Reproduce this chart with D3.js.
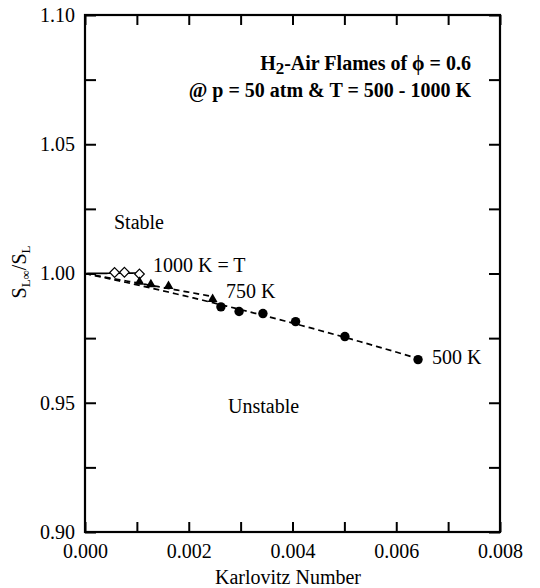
<!DOCTYPE html>
<html><head><meta charset="utf-8">
<script src="https://cdn.jsdelivr.net/npm/d3@7"></script>
<style>body{margin:0;background:#fff}svg{display:block}</style>
</head><body><svg id="c" width="540" height="588"></svg>
<script>
// ---- data ----
const ka1000 = [0.00057, 0.00076, 0.00105];
const s1000  = [1.0004, 1.0005, 0.9998];
const ka750  = [0.00105, 0.00127, 0.00161, 0.00246];
const s750   = [0.9967, 0.9958, 0.9951, 0.9901];
const ka500  = [0.00262, 0.00297, 0.00343, 0.00406, 0.00501, 0.00642];
const s500   = [0.9871, 0.9853, 0.9845, 0.9814, 0.9756, 0.9667];
const xLabelTicks = [0, 0.002, 0.004, 0.006, 0.008];
const xAllTicks   = [0, 0.001, 0.002, 0.003, 0.004, 0.005, 0.006, 0.007, 0.008];
const yLabelTicks = [0.90, 0.95, 1.00, 1.05, 1.10];
const yAllTicks   = [0.90, 0.925, 0.95, 0.975, 1.00, 1.025, 1.05, 1.075, 1.10];

const FONT = "'Liberation Serif','Times New Roman',serif";
const FS = 20;
const svg = d3.select("#c");
svg.append("rect").attr("width",540).attr("height",588).attr("fill","#fff");

const x = d3.scaleLinear().domain([0, 0.008]).range([85, 500]);
const y = d3.scaleLinear().domain([0.90, 1.10]).range([532, 15]);

function styleAxis(g, labelled){
  g.select(".domain").remove();
  g.selectAll(".tick line").attr("stroke","#000").attr("stroke-width",2);
  g.selectAll(".tick text").attr("font-family",FONT).attr("font-size",FS).attr("fill","#000");
  if(!labelled) g.selectAll(".tick text").remove();
}
const fmtX = d3.format(".3f"), fmtY = d3.format(".2f");
const isLab = (arr,d)=>arr.some(v=>Math.abs(v-d)<1e-9);

svg.append("g").attr("transform","translate(0,532)")
  .call(d3.axisBottom(x).tickValues(xAllTicks).tickSizeInner(-10).tickSizeOuter(0).tickPadding(12)
    .tickFormat(d=>isLab(xLabelTicks,d)?fmtX(d):""))
  .call(g=>styleAxis(g,true));
svg.append("g").attr("transform","translate(0,15)")
  .call(d3.axisTop(x).tickValues(xAllTicks).tickSizeInner(-10).tickSizeOuter(0))
  .call(g=>styleAxis(g,false));
svg.append("g").attr("transform","translate(85,0)")
  .call(d3.axisLeft(y).tickValues(yAllTicks).tickSizeInner(-11).tickSizeOuter(0).tickPadding(10)
    .tickFormat(d=>isLab(yLabelTicks,d)?fmtY(d):""))
  .call(g=>styleAxis(g,true));
svg.append("g").attr("transform","translate(500,0)")
  .call(d3.axisRight(y).tickValues(yAllTicks).tickSizeInner(-11).tickSizeOuter(0))
  .call(g=>styleAxis(g,false));

// frame
svg.append("rect").attr("x",x(0)).attr("y",y(1.10)).attr("width",x(0.008)-x(0)).attr("height",y(0.90)-y(1.10))
  .attr("fill","none").attr("stroke","#000").attr("stroke-width",2.2);

// ---- fit lines (least squares through S=1 at Ka=0) ----
function fitLinear(ka,s){
  let num=0,den=0; ka.forEach((k,i)=>{num+=k*(s[i]-1);den+=k*k;});
  const a=num/den; return k=>1+a*k;
}
function fitQuad(ka,s){
  let s11=0,s12=0,s22=0,b1=0,b2=0;
  ka.forEach((k,i)=>{const d=s[i]-1;s11+=k*k;s12+=k*k*k;s22+=k*k*k*k;b1+=k*d;b2+=k*k*d;});
  const det=s11*s22-s12*s12; const a=(b1*s22-b2*s12)/det, b=(s11*b2-s12*b1)/det;
  return k=>1+a*k+b*k*k;
}
const line = d3.line().x(d=>x(d[0])).y(d=>y(d[1]));
function drawFit(f, kmax, dashed){
  const pts = d3.range(0,41).map(i=>{const k=kmax*i/40; return [k,f(k)];});
  svg.append("path").attr("d",line(pts)).attr("fill","none").attr("stroke","#000")
    .attr("stroke-width",1.7).attr("stroke-dasharray",dashed?"6,4":null);
}
drawFit(fitLinear(ka1000,s1000), d3.max(ka1000)*1.06, false);
drawFit(fitLinear(ka750,s750), d3.max(ka750), true);
drawFit(fitQuad(ka500,s500), d3.max(ka500), true);

// ---- markers ----
const pts = (ka,s)=>ka.map((k,i)=>[k,s[i]]);
svg.append("g").selectAll("path").data(pts(ka1000,s1000)).join("path")
  .attr("d",d3.symbol(d3.symbolDiamond2,60)()).attr("transform",d=>`translate(${x(d[0])},${y(d[1])})`)
  .attr("fill","#fff").attr("stroke","#000").attr("stroke-width",1.2);
svg.append("g").selectAll("path").data(pts(ka750,s750)).join("path")
  .attr("d",d3.symbol(d3.symbolTriangle,42)()).attr("transform",d=>`translate(${x(d[0])},${y(d[1])})`)
  .attr("fill","#000");
svg.append("g").selectAll("circle").data(pts(ka500,s500)).join("circle")
  .attr("cx",d=>x(d[0])).attr("cy",d=>y(d[1])).attr("r",4.7).attr("fill","#000");

// ---- texts ----
function txt(t,xx,yy,opts={}){
  return svg.append("text").attr("x",xx).attr("y",yy).attr("font-family",FONT)
    .attr("font-size",opts.size||FS).attr("font-weight",opts.bold?"bold":"normal")
    .attr("text-anchor",opts.anchor||"start").attr("fill","#000").text(t);
}
const t1 = svg.append("text").attr("x",471).attr("y",70).attr("font-family",FONT).attr("font-size",20)
  .attr("font-weight","bold").attr("text-anchor","end");
t1.append("tspan").text("H");
t1.append("tspan").attr("dy",4).attr("font-size",17).text("2");
t1.append("tspan").attr("dy",-4).text("-Air Flames of \u03D5 = 0.6");
txt("@ p = 50 atm & T = 500 - 1000 K",471,97,{bold:true,anchor:"end",size:20});

txt("Stable",114,229);
txt("Unstable",228,413);
txt("1000 K = T",153,272);
txt("750 K",226,298);
txt("500 K",432,364);

txt("Karlovitz Number",288,584,{anchor:"middle"});
const yt = svg.append("text").attr("transform","translate(26,272) rotate(-90)").attr("text-anchor","middle")
  .attr("font-family",FONT).attr("font-size",FS);
yt.append("tspan").text("S");
yt.append("tspan").attr("dy",4).attr("font-size",13).text("L\u221E");
yt.append("tspan").attr("dy",-4).text("/S");
yt.append("tspan").attr("dy",4).attr("font-size",13).text("L");
</script></body></html>
